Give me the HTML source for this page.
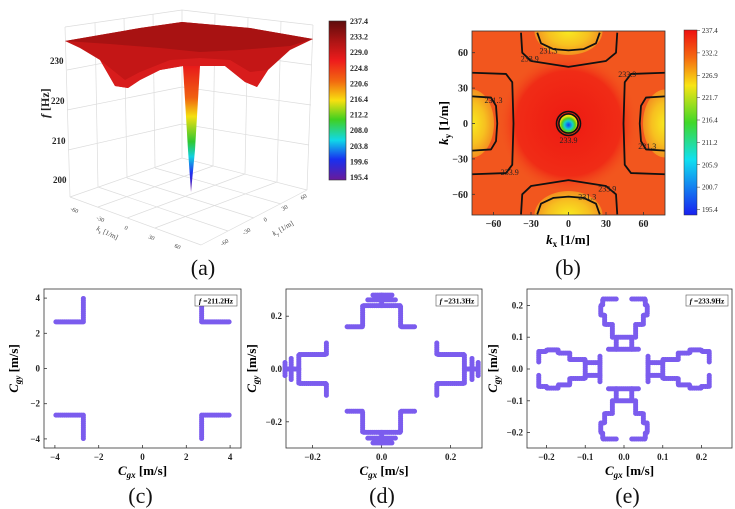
<!DOCTYPE html>
<html><head><meta charset="utf-8"><style>
html,body{margin:0;padding:0;background:#fff}
svg{display:block;font-family:"Liberation Serif",serif}
.tk{font-size:9px;font-weight:bold;fill:#222}
.cl{font-size:8px;fill:#222}
.ttl{font-size:22px;fill:#111}
</style></head><body>
<svg id="fig" width="735" height="509" viewBox="0 0 735 509">
<defs>
<linearGradient id="cbA" x1="0" y1="0" x2="0" y2="1">
<stop offset="0" stop-color="#5e0c0c"/><stop offset="0.12" stop-color="#a81414"/><stop offset="0.25" stop-color="#ee1c1c"/><stop offset="0.38" stop-color="#f26a10"/><stop offset="0.5" stop-color="#f8e010"/><stop offset="0.62" stop-color="#40d020"/><stop offset="0.75" stop-color="#10d8e8"/><stop offset="0.87" stop-color="#1830f0"/><stop offset="1" stop-color="#6a1a9a"/></linearGradient>
<linearGradient id="cbB" x1="0" y1="0" x2="0" y2="1">
<stop offset="0" stop-color="#ee1010"/><stop offset="0.15" stop-color="#f56a10"/><stop offset="0.3" stop-color="#f8e414"/><stop offset="0.5" stop-color="#40d828"/><stop offset="0.7" stop-color="#10e0f0"/><stop offset="1" stop-color="#1820f0"/></linearGradient>
<linearGradient id="spike" x1="0" y1="66" x2="0" y2="192" gradientUnits="userSpaceOnUse">
<stop offset="0" stop-color="#e81a1a"/><stop offset="0.25" stop-color="#f06010"/><stop offset="0.4" stop-color="#f4e010"/><stop offset="0.6" stop-color="#30c830"/><stop offset="0.72" stop-color="#10d0e0"/><stop offset="0.85" stop-color="#2030f0"/><stop offset="1" stop-color="#7020a0"/></linearGradient>
<radialGradient id="redc" cx="568.5" cy="123.5" r="70" gradientUnits="userSpaceOnUse">
<stop offset="0" stop-color="#ee1a12"/><stop offset="0.75" stop-color="#f02c16"/><stop offset="1" stop-color="#f2561e" stop-opacity="0"/></radialGradient>
<radialGradient id="yel" cx="0.5" cy="0.5" r="0.5">
<stop offset="0" stop-color="#f8ea20"/><stop offset="0.6" stop-color="#f7c020"/><stop offset="1" stop-color="#f39020"/></radialGradient>
<radialGradient id="ctr" cx="568.5" cy="125" r="9" gradientUnits="userSpaceOnUse">
<stop offset="0" stop-color="#1838f0"/><stop offset="0.45" stop-color="#10d0d0"/><stop offset="0.75" stop-color="#50d020"/><stop offset="1" stop-color="#f0e010"/></radialGradient>
<clipPath id="clipB"><rect x="472" y="31" width="193" height="184"/></clipPath>
</defs>

<!-- ===== Panel (a) 3D surface ===== -->
<g>
<g stroke="#dcdcdc" stroke-width="0.7" fill="none">
<polyline points="65,27 182,10 313,25"/>
<line x1="182" y1="10" x2="182" y2="158"/>
<polyline points="70,197 182,158 307,190"/>
<line x1="65" y1="27" x2="70" y2="197"/>
<line x1="313" y1="25" x2="307" y2="190"/>
<line x1="67" y1="70" x2="182" y2="48"/><line x1="67" y1="110" x2="182" y2="87"/><line x1="68" y1="150" x2="182" y2="124"/>
<line x1="182" y1="48" x2="312" y2="65"/><line x1="182" y1="87" x2="311" y2="105"/><line x1="182" y1="124" x2="309" y2="145"/>
<line x1="95" y1="23" x2="98" y2="187"/><line x1="124" y1="18" x2="127" y2="178"/><line x1="153" y1="14" x2="155" y2="168"/>
<line x1="215" y1="14" x2="213" y2="166"/><line x1="248" y1="18" x2="245" y2="174"/><line x1="281" y1="21" x2="277" y2="182"/>
<line x1="70" y1="197" x2="201" y2="245"/><line x1="201" y1="245" x2="307" y2="190"/>
<line x1="98" y1="187" x2="228" y2="231"/><line x1="127" y1="178" x2="254" y2="218"/><line x1="155" y1="168" x2="281" y2="204"/>
<line x1="98" y1="207" x2="213" y2="166"/><line x1="127" y1="218" x2="245" y2="174"/><line x1="155" y1="228" x2="277" y2="182"/>
</g>
<g>
<polygon points="65,41 140,28 182,22 250,28 313,39 290,50 268,70 257,87 245,82 225,66 200,66 183,66 160,70 140,80 128,88 115,86 100,60 80,48" fill="#c41616"/>
<polygon points="65,41 140,28 182,22 250,28 313,39 290,46 240,50 200,52 160,48 110,44" fill="#a81212"/>
<polygon points="100,60 115,86 128,88 140,80 160,70 183,66 200,66 225,66 245,82 257,87 268,70 250,72 230,60 200,58 170,60 140,72 125,80" fill="#d81c1c"/>
<polygon points="183,66 200,66 195,150 191,192 188,150" fill="url(#spike)"/>
</g>
<g class="tk">
<text x="50" y="64">230</text>
<text x="51" y="104">220</text>
<text x="52" y="144">210</text>
<text x="53" y="183">200</text>
<text transform="translate(49,118) rotate(-90)" style="font-size:12px"><tspan font-style="italic">f</tspan> [Hz]</text>
</g>
<g style="font-size:6px;fill:#444">
<text x="70" y="210" transform="rotate(25 70 210)">-60</text><text x="96" y="219" transform="rotate(25 96 219)">-30</text>
<text x="124" y="229" transform="rotate(25 124 229)">0</text><text x="148" y="238" transform="rotate(25 148 238)">30</text>
<text x="174" y="247" transform="rotate(25 174 247)">60</text>
<text x="96" y="230" transform="rotate(25 96 230)" style="font-size:7px"><tspan font-style="italic">k</tspan><tspan font-size="5" dy="2">x</tspan><tspan dy="-2"> [1/m]</tspan></text>
<text x="222" y="246" transform="rotate(-30 222 246)">-60</text><text x="244" y="235" transform="rotate(-30 244 235)">-30</text>
<text x="265" y="222" transform="rotate(-30 265 222)">0</text><text x="283" y="211" transform="rotate(-30 283 211)">30</text>
<text x="302" y="200" transform="rotate(-30 302 200)">60</text>
<text x="274" y="236" transform="rotate(-30 274 236)" style="font-size:7px"><tspan font-style="italic">k</tspan><tspan font-size="5" dy="2">y</tspan><tspan dy="-2"> [1/m]</tspan></text>
</g>
<rect x="329" y="21" width="17" height="159" fill="url(#cbA)" stroke="#333" stroke-width="0.6"/>
<g id="cbAlabels" class="tk" style="font-size:8px"></g>
<text x="203" y="275" text-anchor="middle" class="ttl">(a)</text>
</g>

<!-- ===== Panel (b) contour ===== -->
<g>
<g clip-path="url(#clipB)">
<rect x="472" y="31" width="193" height="184" fill="#f2561e"/>
<circle cx="568.5" cy="123.5" r="70" fill="url(#redc)"/>
<ellipse cx="568.5" cy="31" rx="34" ry="24" fill="url(#yel)"/>
<ellipse cx="568.5" cy="215" rx="34" ry="24" fill="url(#yel)"/>
<ellipse cx="472" cy="123.5" rx="22" ry="34" fill="url(#yel)"/>
<ellipse cx="665" cy="123.5" rx="22" ry="34" fill="url(#yel)"/>
<circle cx="568.5" cy="124" r="10" fill="url(#ctr)"/>
<g id="contours"></g>
</g>
<rect x="472" y="31" width="193" height="184" fill="none" stroke="#333" stroke-width="0.8"/>
<g id="bAxes"></g>
<rect x="684" y="30" width="13" height="185" fill="url(#cbB)" stroke="#333" stroke-width="0.5"/>
<g id="cbBlabels" style="font-size:7px;fill:#222"></g>
<text x="568" y="275" text-anchor="middle" class="ttl">(b)</text>
</g>

<g id="lower"></g>
</svg>
<script>
// ---------- data ----------
const cbAValues = ["237.4","233.2","229.0","224.8","220.6","216.4","212.2","208.0","203.8","199.6","195.4"];
const cbBValues = ["237.4","232.2","226.9","221.7","216.4","211.2","205.9","200.7","195.4"];
const bTicks = [-60,-30,0,30,60];
// contour lines of panel b (kx, ky) in 1/m
const contour2339Top = [[-38,77],[-37,60],[-30,53],[0,48],[30,53],[38,60],[39,77]];
const contour2339Bottom = [[-38,-77],[-37,-60],[-30,-53],[0,-48],[30,-53],[38,-60],[39,-77]];
const contour2339Left = [[-77,43],[-50,42],[-45,35],[-44,0],[-45,-35],[-50,-42],[-77,-43]];
const contour2339Right = [[77,43],[50,42],[45,35],[44,0],[45,-35],[50,-42],[77,-43]];
const contour2313Top = [[-25,77],[-22,68],[-12,63],[0,62],[12,63],[22,68],[25,77]];
const contour2313Bottom = [[-25,-77],[-22,-68],[-12,-63],[0,-62],[12,-63],[22,-68],[25,-77]];
const contour2313Left = [[-77,23],[-62,22],[-58,15],[-57,0],[-58,-15],[-62,-22],[-77,-23]];
const contour2313Right = [[77,23],[62,22],[58,15],[57,0],[58,-15],[62,-22],[77,-23]];
const centerRings = [10, 8]; // radii in 1/m
const contourLabels = [["231.3",-16,62],["233.9",-31,55],["233.9",47,42],["231.3",-60,20],["233.9",0,-14],["231.3",63,-19],["233.9",-47,-41],["233.9",31,-55],["231.3",15,-62]];
// panel c: one arm (quadrant I); others mirrored
const cArm = [[2.7,3.98],[2.7,2.65],[4.0,2.65]];
const cTicksX = [-4,-2,0,2,4];
const cTicksY = [-4,-2,0,2,4];
// panel d: top arm polylines
const dArmOutline = [[-0.1,0.16],[-0.055,0.16],[-0.055,0.24],[0.055,0.24],[0.055,0.16],[0.1,0.16]];
const dArmStem = [[0,0.24],[0,0.28]];
const dArmCap = [[-0.025,0.28],[0.03,0.28]];
const dArmWing = [[-0.04,0.262],[0.04,0.262]];
const dTicks = [-0.2,0,0.2];
// panel e: top arm polylines
const eArmBase = [[-0.04,0.062],[0.04,0.062]];
const eArmLegL = [[-0.02,0.062],[-0.02,0.1]];
const eArmLegR = [[0.02,0.062],[0.02,0.1]];
const eArmBody = [[-0.02,0.22],[-0.055,0.22],[-0.055,0.2],[-0.06,0.2],[-0.06,0.17],[-0.05,0.17],[-0.05,0.14],[-0.03,0.14],[-0.03,0.1],[0.03,0.1],[0.03,0.14],[0.05,0.14],[0.05,0.17],[0.06,0.17],[0.06,0.2],[0.055,0.2],[0.055,0.22],[0.02,0.22]];
const eTicks = [-0.2,-0.1,0,0.1,0.2];

const NS = "http://www.w3.org/2000/svg";
function mk(tag, attrs, parent){ const e=document.createElementNS(NS,tag); for(const k in attrs) e.setAttribute(k,attrs[k]); parent.appendChild(e); return e; }

// colorbar labels
const cbA = document.getElementById('cbAlabels');
cbAValues.forEach((v,i)=>{ const t=mk('text',{x:350,y:24+i*(156/(cbAValues.length-1))},cbA); t.textContent=v;

 });
const cbB = document.getElementById('cbBlabels');
cbBValues.forEach((v,i)=>{ const y=33+i*(179/(cbBValues.length-1)); mk('line',{x1:697,x2:700,y1:y-2.5,y2:y-2.5,stroke:'#333','stroke-width':0.5},cbB); const t=mk('text',{x:702,y:y},cbB); t.textContent=v;

 });

// panel b axes
const bx = k => 568.5 + k*1.25, by = k => 123.5 - k*1.18;
const cg = document.getElementById('contours');
function pl(pts, fx, fy, parent, attrs){ return mk('polyline',Object.assign({points:pts.map(p=>fx(p[0])+','+fy(p[1])).join(' '),fill:'none'},attrs),parent); }
[contour2339Top,contour2339Bottom,contour2339Left,contour2339Right,contour2313Top,contour2313Bottom,contour2313Left,contour2313Right].forEach(c=>{
 const p=pl(c,bx,by,cg,{stroke:'#111','stroke-width':1.8,'stroke-linejoin':'round'});
 
 
});
centerRings.forEach(r=>{ const c=mk('circle',{cx:bx(0),cy:by(0),r:r*1.2,fill:'none',stroke:'#111','stroke-width':1.6},cg);
 
  });
contourLabels.forEach(l=>{ const t=mk('text',{x:bx(l[1]),y:by(l[2])+3,'text-anchor':'middle',class:'cl'},cg); t.textContent=l[0];
 
  });
const ba = document.getElementById('bAxes');
bTicks.forEach(v=>{
 mk('line',{x1:bx(v),x2:bx(v),y1:215,y2:212,stroke:'#333','stroke-width':0.8},ba);
 mk('line',{x1:472,x2:475,y1:by(v),y2:by(v),stroke:'#333','stroke-width':0.8},ba);
 const tx=mk('text',{x:bx(v),y:227,'text-anchor':'middle',class:'tk',style:'font-size:10px'},ba); tx.textContent=(v<0?'\u2212':'')+Math.abs(v);
 
 
 const ty=mk('text',{x:468,y:by(v)+3.5,'text-anchor':'end',class:'tk',style:'font-size:10px'},ba); ty.textContent=(v<0?'\u2212':'')+Math.abs(v);
 
 
});
let t=mk('text',{x:568,y:244,'text-anchor':'middle',style:'font-size:13px;font-weight:bold'},ba);
t.innerHTML='<tspan font-style="italic">k</tspan><tspan font-size="9" dy="3">x</tspan><tspan dy="-3"> [1/m]</tspan>';


t=mk('text',{transform:'translate(448,123) rotate(-90)','text-anchor':'middle',style:'font-size:13px;font-weight:bold'},ba);
t.innerHTML='<tspan font-style="italic">k</tspan><tspan font-size="9" dy="3">y</tspan><tspan dy="-3"> [1/m]</tspan>';



// lower scatter panels
const lower = document.getElementById('lower');
function panel(cfg){
 const g=mk('g',{},lower);
 
 
 const {L,R,T,B}=cfg; const fx=cfg.fx, fy=cfg.fy;
 mk('rect',{x:L,y:T,width:R-L,height:B-T,fill:'#fff',stroke:'#333','stroke-width':0.8},g);
 cfg.ticksX.forEach(v=>{ mk('line',{x1:fx(v),x2:fx(v),y1:B,y2:B-3,stroke:'#333','stroke-width':0.8},g);
  const s=mk('text',{x:fx(v),y:B+12,'text-anchor':'middle',class:'tk'},g); s.textContent=cfg.fmt(v);
  
   });
 cfg.ticksY.forEach(v=>{ mk('line',{x1:L,x2:L+3,y1:fy(v),y2:fy(v),stroke:'#333','stroke-width':0.8},g);
  const s=mk('text',{x:L-4,y:fy(v)+3,'text-anchor':'end',class:'tk'},g); s.textContent=cfg.fmt(v);
  
   });
 const sg=mk('g',{fill:'none',stroke:'#7b5cee','stroke-width':cfg.sw,'stroke-linejoin':'round','stroke-linecap':'round','stroke-dasharray':'0.5 1.6'},g);
 cfg.lines.forEach(ln=>{ const p=pl(ln,fx,fy,sg,{});
  
   });
 const sg2=mk('g',{fill:'none',stroke:'#7b5cee','stroke-width':cfg.sw-1.5,'stroke-linejoin':'round'},g);
 cfg.lines.forEach(ln=>pl(ln,fx,fy,sg2,{}));
 const lb=mk('g',{},g);
 
 
 mk('rect',{x:R-46,y:T+6,width:42,height:11,fill:'#fff',stroke:'#555','stroke-width':0.6},lb);
 const lt=mk('text',{x:R-25,y:T+14.5,'text-anchor':'middle',style:'font-size:7.5px;font-weight:bold'},lb);
 lt.innerHTML='<tspan font-style="italic">f</tspan> =' + cfg.freq;
 const xt=mk('text',{x:(L+R)/2,y:B+27,'text-anchor':'middle',style:'font-size:13px;font-weight:bold'},g);
 xt.innerHTML='<tspan font-style="italic">C</tspan><tspan font-size="9" font-style="italic" dy="3">gx</tspan><tspan dy="-3"> [m/s]</tspan>';
 
 
 const yt=mk('text',{transform:`translate(${cfg.yTitleX},${(T+B)/2}) rotate(-90)`,'text-anchor':'middle',style:'font-size:13px;font-weight:bold'},g);
 yt.innerHTML='<tspan font-style="italic">C</tspan><tspan font-size="9" font-style="italic" dy="3">gy</tspan><tspan dy="-3"> [m/s]</tspan>';
 
 
 const pt=mk('text',{x:(L+R)/2-2,y:503,'text-anchor':'middle',class:'ttl'},g); pt.textContent=cfg.label;
 
 
}
const mirror4 = (ln)=>[ln, ln.map(p=>[-p[0],p[1]]), ln.map(p=>[p[0],-p[1]]), ln.map(p=>[-p[0],-p[1]])];
const rot4 = (ln)=>[ln, ln.map(p=>[p[0],-p[1]]), ln.map(p=>[p[1],p[0]]), ln.map(p=>[-p[1],p[0]])];
const fmt1 = v => (v<0?'\u2212':'')+Math.abs(v).toFixed(1);
panel({name:'panel-c-scatter',L:44,R:241,T:289,B:448,fx:v=>142.5+v*21.9,fy:v=>368.5-v*17.6,ticksX:cTicksX,ticksY:cTicksY,
 fmt:v=>(v<0?'\u2212':'')+Math.abs(v),lines:mirror4(cArm),sw:5,freq:'211.2Hz',yTitleX:18,label:'(c)'});
panel({name:'panel-d-scatter',L:286,R:482,T:289,B:448,fx:v=>381.6+v*345,fy:v=>369-v*264,ticksX:dTicks,ticksY:dTicks,
 fmt:fmt1,lines:[dArmOutline,dArmStem,dArmCap,dArmWing].flatMap(rot4),sw:5,freq:'231.3Hz',yTitleX:256,label:'(d)'});
panel({name:'panel-e-scatter',L:527,R:732,T:289,B:448,fx:v=>624+v*387.5,fy:v=>369-v*318,ticksX:eTicks,ticksY:eTicks,
 fmt:fmt1,lines:[eArmBase,eArmLegL,eArmLegR,eArmBody].flatMap(rot4),sw:5,freq:'233.9Hz',yTitleX:497,label:'(e)'});
</script>
</body></html>
